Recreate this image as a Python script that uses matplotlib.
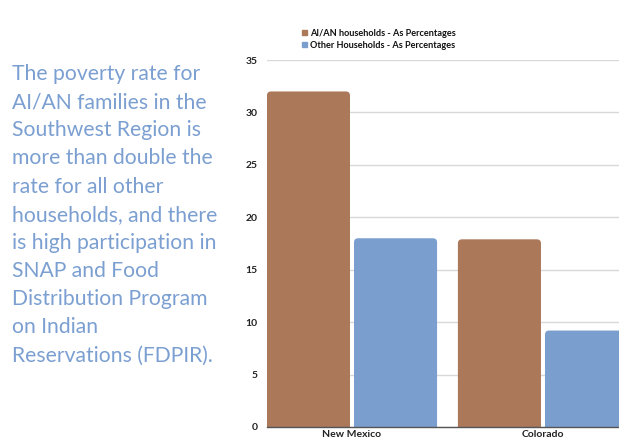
import matplotlib.pyplot as plt
from matplotlib.patches import FancyBboxPatch, Patch
import numpy as np

# data
states = ["New Mexico", "Colorado"]
aian = [32.0, 17.9]
other = [18.0, 9.2]
series_names = ["AI/AN households - As Percentages", "Other Households - As Percentages"]
yticks = [0, 5, 10, 15, 20, 25, 30, 35]

brown = '#ab7959'
blue = '#7a9fcf'
txtblue = '#7b9fd1'

plt.rcParams['font.family'] = ['Lato', 'DejaVu Sans']

fig = plt.figure(figsize=(6.19, 4.42), dpi=100)
ax = fig.add_axes([267/619, 15/442, (619-267)/619, (427-60)/442])

x = np.arange(len(states))
w = 0.435
off = 0.228
b1 = ax.bar(x - off, aian, w, color=brown)
b2 = ax.bar(x + off, other, w, color=blue)

# swap plain bars for ones with rounded tops
for bars in (b1, b2):
    for r in bars:
        r.set_visible(False)
        p = FancyBboxPatch((r.get_x(), -3), r.get_width(), r.get_height() + 3,
                           boxstyle="round,pad=0,rounding_size=0.022",
                           mutation_aspect=18, facecolor=r.get_facecolor(),
                           edgecolor='none', zorder=2)
        ax.add_patch(p)

ax.set_xlim(-0.445, 1.398)
ax.set_ylim(0, 35)
ax.set_yticks(yticks)
ax.set_xticks(x)
ax.set_xticklabels(states)
for lab in ax.get_xticklabels() + ax.get_yticklabels():
    lab.set_fontweight('bold')
    lab.set_fontsize(7.5)
    lab.set_color('#222222')
ax.tick_params(length=0)
ax.tick_params(axis='y', pad=7)
ax.tick_params(axis='x', pad=2)
ax.grid(axis='y', color='#d9d9d9', linewidth=1)
ax.set_axisbelow(True)
for s in ['top', 'right', 'left']:
    ax.spines[s].set_visible(False)
ax.spines['bottom'].set_color('#555555')
ax.spines['bottom'].set_linewidth(1)
ax.spines['bottom'].set_zorder(3)

handles = [Patch(color=brown), Patch(color=blue)]
leg = fig.legend(handles, series_names, loc='upper left', bbox_to_anchor=(297/619, 1 - 24/442),
                 frameon=False, prop={'family': 'Lato', 'weight': 'bold', 'size': 6.6},
                 handlelength=0.55, handleheight=0.55,
                 handletextpad=0.4, labelspacing=0.35, borderpad=0, labelcolor='#111111')

body = ("The poverty rate for\nAI/AN families in the\nSouthwest Region is\nmore than double the\n"
        "rate for all other\nhouseholds, and there\nis high participation in\nSNAP and Food\n"
        "Distribution Program\non Indian\nReservations (FDPIR).")
fig.text(12/619, 1 - 64/442, body, ha='left', va='top', fontsize=15.2, color=txtblue,
         linespacing=1.51)

fig.savefig("out.png", dpi=100)
